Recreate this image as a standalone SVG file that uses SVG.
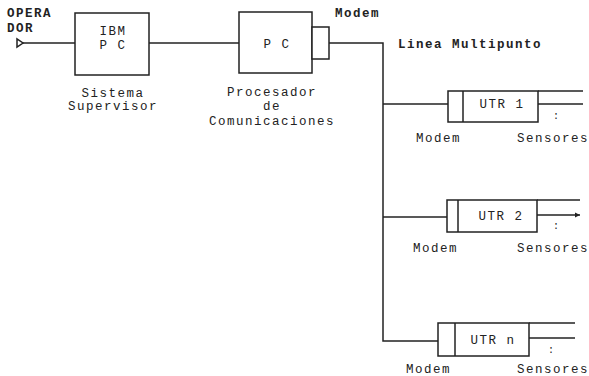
<svg xmlns="http://www.w3.org/2000/svg" width="589" height="376" viewBox="0 0 589 376">
<style>
  .t{font-family:"Liberation Mono","Courier New",monospace;font-size:12.5px;letter-spacing:1.5px;fill:#222}
  .b{font-weight:bold}
  .m{text-anchor:middle}
  .s{fill:none;stroke:#222;stroke-width:1.5}
  .box{fill:#fff;stroke:#222;stroke-width:1.5}
  .d{font-size:10px;letter-spacing:0}
</style>
<defs>
  <marker id="ar" markerWidth="6" markerHeight="6" refX="5" refY="3" orient="auto" markerUnits="userSpaceOnUse">
    <path d="M0,0.5 L5,3 L0,5.5 Z" fill="#222"/>
  </marker>
</defs>
<rect width="589" height="376" fill="#fff"/>

<g id="connectors">
  <path class="s" d="M23,43 H75"/>
  <path class="s" d="M149,43 H239"/>
  <path class="s" d="M329,43 H383 V341 H438"/>
  <path class="s" d="M383,104 H448"/>
  <path class="s" d="M383,217 H447"/>
  <path class="s" d="M538,91 H583"/>
  <path class="s" d="M538,104 H583"/>
  <path class="s" d="M537,200 H580"/>
  <path class="s" d="M537,215 H580" marker-end="url(#ar)"/>
  <path class="s" d="M529,323 H575"/>
  <path class="s" d="M529,338 H575"/>
</g>

<g id="operador">
  <text class="t b" x="7" y="17">OPERA</text>
  <text class="t b" x="7" y="32">DOR</text>
  <polygon class="s" points="17,39 17,47 23,43"/>
</g>

<g id="ibm-pc">
  <rect class="box" x="75" y="13" width="74" height="62"/>
  <text class="t m" x="113" y="35">IBM</text>
  <text class="t m" x="113" y="49">P C</text>
  <text class="t m" x="113" y="97">Sistema</text>
  <text class="t m" x="113" y="110">Supervisor</text>
</g>

<g id="procesador">
  <rect class="box" x="239" y="12" width="73" height="61"/>
  <rect class="box" x="312" y="27" width="17" height="32"/>
  <text class="t m" x="277" y="48">P C</text>
  <text class="t b" x="335" y="17">Modem</text>
  <text class="t m" x="272" y="96">Procesador</text>
  <text class="t m" x="272" y="110">de</text>
  <text class="t m" x="272" y="125">Comunicaciones</text>
</g>

<g id="linea">
  <text class="t b" x="398" y="48">Linea Multipunto</text>
</g>

<g id="utr1">
  <rect class="box" x="448" y="91" width="90" height="31"/>
  <path class="s" d="M463,91 V122"/>
  <text class="t m" x="502" y="108">UTR 1</text>
  <text class="t d" x="553" y="119">:</text>
  <text class="t" x="416" y="142">Modem</text>
  <text class="t" x="517" y="142">Sensores</text>
</g>

<g id="utr2">
  <rect class="box" x="447" y="200" width="90" height="32"/>
  <path class="s" d="M458,200 V232"/>
  <text class="t m" x="501" y="220">UTR 2</text>
  <text class="t d" x="553" y="229">:</text>
  <text class="t" x="413" y="252">Modem</text>
  <text class="t" x="517" y="252">Sensores</text>
</g>

<g id="utrn">
  <rect class="box" x="438" y="323" width="91" height="33"/>
  <path class="s" d="M455,323 V356"/>
  <text class="t m" x="493" y="344">UTR n</text>
  <text class="t d" x="548" y="353">:</text>
  <text class="t" x="406" y="373">Modem</text>
  <text class="t" x="517" y="373">Sensores</text>
</g>
</svg>
